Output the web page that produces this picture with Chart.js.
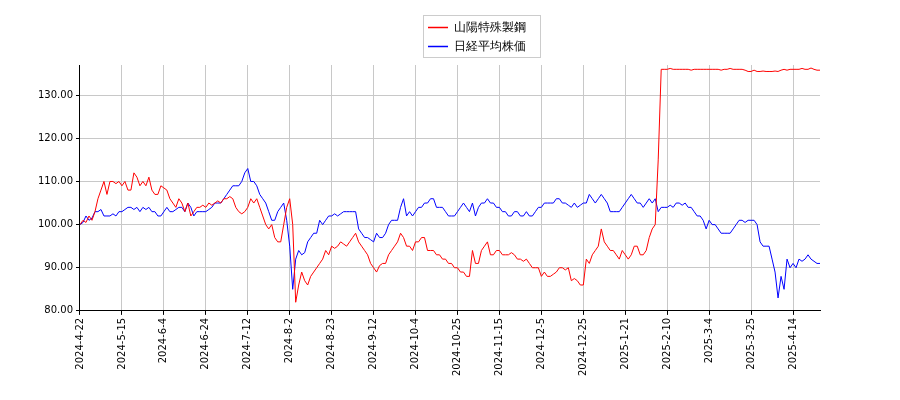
<!DOCTYPE html>
<html><head><meta charset="utf-8">
<script src="https://cdn.jsdelivr.net/npm/chart.js@4"></script>
<style>body{margin:0;background:#fff}</style></head>
<body><canvas id="c" width="900" height="400"></canvas>
<script>
const tickLabels=["2024-4-22","2024-5-15","2024-6-4","2024-6-24","2024-7-12","2024-8-2","2024-8-23","2024-9-12","2024-10-4","2024-10-25","2024-11-15","2024-12-5","2024-12-25","2025-1-21","2025-2-10","2025-3-4","2025-3-25","2025-4-14"];
const seriesNames=["山陽特殊製鋼","日経平均株価"];
const sanyo=[100,101,100.5,102,101,103,106,108,110,107,
110,110,109.5,110,109,110,108,108,112,111,
109,110,109,111,108,107,107,109,108.5,108,
106,105,104,106,105,103,105,102,103,104,
104,104.5,104,105,104.5,105,105.5,105,106,106,
106.5,106,104,103,102.5,103,104,106,105,106,
104,102,100,99,100,97,96,96,100,104,
106,100,82,86,89,87,86,88,89,90,
91,92,94,93,95,94.5,95,96,95.5,95,
96,97,98,96,95,94,93,91,90,89,
90.5,91,91,93,94,95,96,98,97,95,
95,94,96,96,97,97,94,94,94,93,
93,92,92,91,91,90,90,89,89,88,
88,94,91,91,94,95,96,93,93,94,
94,93,93,93,93.5,93,92,92,91.5,92,
91,90,90,90,88,89,88,88,88.5,89,
90,90,89.5,90,87,87.5,87,86,86,92,
91,93,94,95,99,96,95,94,94,93,
92,94,93,92,93,95,95,93,93,94,
97,99,100,115,136,136,136,136.2,136,136,
136,136,136,136,135.8,136,136,136,136,136,
136,136,136,136,135.8,136,136,136.2,136,136,
136,136,135.8,135.5,135.5,135.8,135.5,135.5,135.6,135.5,
135.5,135.5,135.6,135.5,135.8,136,135.8,136,136,136,
136,136.2,136,136,136.3,136,135.8,135.8];
const nikkei=[100,100.5,102,101,101.5,103,103,103.5,102,102,
102,102.5,102,103,103,103.5,104,104,103.5,104,
103,104,103.5,104,103,103,102,102,103,104,
103,103,103.5,104,104,103,105,104,102,103,
103,103,103,103.5,104,105,105,105,106,107,
108,109,109,109,110,112,113,110,110,109,
107,106,105,103,101,101,103,104,105,101,
95,85,92,94,93,93.5,96,97,98,98,
101,100,101,102,102,102.5,102,102.5,103,103,
103,103,103,99,98,97,97,96.5,96,98,
97,97,98,100,101,101,101,104,106,102,
103,102,103,104,104,105,105,106,106,104,
104,104,103,102,102,102,103,104,105,104,
103,105,102,104,105,105,106,105,105,104,
104,103,103,102,102,103,103,102,102,103,
102,102,103,104,104,105,105,105,105,106,
106,105,105,104.5,104,105,104,104.5,105,105,
107,106,105,106,107,106,105,103,103,103,
103,104,105,106,107,106,105,105,104,105,
106,105,106,103,104,104,104,104.5,104,105,
105,104.5,105,104,104,103,102,102,101,99,
101,100,100,99,98,98,98,98,99,100,
101,101,100.5,101,101,101,100,96,95,95,
95,92,89,83,88,85,92,90,91,90,
92,91.5,92,93,92,91.5,91,91];
const F="'DejaVu Sans'";
Chart.defaults.font.family=F;Chart.defaults.font.size=10;Chart.defaults.color="#000";
const mk=(arr)=>arr.map((v,i)=>({x:i,y:v}));
const legendBox={id:'lb',afterDraw(c){const ctx=c.ctx;ctx.save();
ctx.fillStyle='#fff';ctx.fillRect(423,15,117,42);
ctx.strokeStyle='#ccc';ctx.lineWidth=1;ctx.strokeRect(423.5,15.5,117,42);
ctx.font="12px "+F;ctx.textBaseline='middle';
c.data.datasets.forEach((d,i)=>{const y=27+i*19;ctx.strokeStyle=d.borderColor;ctx.lineWidth=1.5;
ctx.beginPath();ctx.moveTo(428,y+0.5);ctx.lineTo(448,y+0.5);ctx.stroke();
ctx.fillStyle='#000';ctx.fillText(d.label,454,y+1);});
ctx.restore();}};
new Chart(document.getElementById('c'),{type:'line',
data:{datasets:[{label:seriesNames[0],data:mk(sanyo),borderColor:'#ff0000',backgroundColor:'#ff0000',borderWidth:1,pointRadius:0,tension:0},
{label:seriesNames[1],data:mk(nikkei),borderColor:'#0000ff',backgroundColor:'#0000ff',borderWidth:1,pointRadius:0,tension:0}]},
options:{responsive:false,animation:false,layout:{padding:{left:35,right:80,top:65,bottom:21}},
plugins:{tooltip:{enabled:false},legend:{display:false}},
scales:{x:{type:'linear',min:0,max:247,grid:{color:'#c8c8c8',drawTicks:true,tickLength:4,tickColor:'#000'},border:{color:'#000'},
afterBuildTicks(s){s.ticks=tickLabels.map((_,i)=>({value:i*14}));},
ticks:{autoSkip:false,maxRotation:90,minRotation:90,callback:(v)=>tickLabels[v/14]}},
y:{min:80,max:137,grid:{color:'#c8c8c8',tickLength:4,tickColor:'#000'},border:{color:'#000'},
afterBuildTicks(s){s.ticks=[80,90,100,110,120,130].map(v=>({value:v}));},
ticks:{callback:(v)=>v.toFixed(2)}}}},plugins:[legendBox]});
</script></body></html>
